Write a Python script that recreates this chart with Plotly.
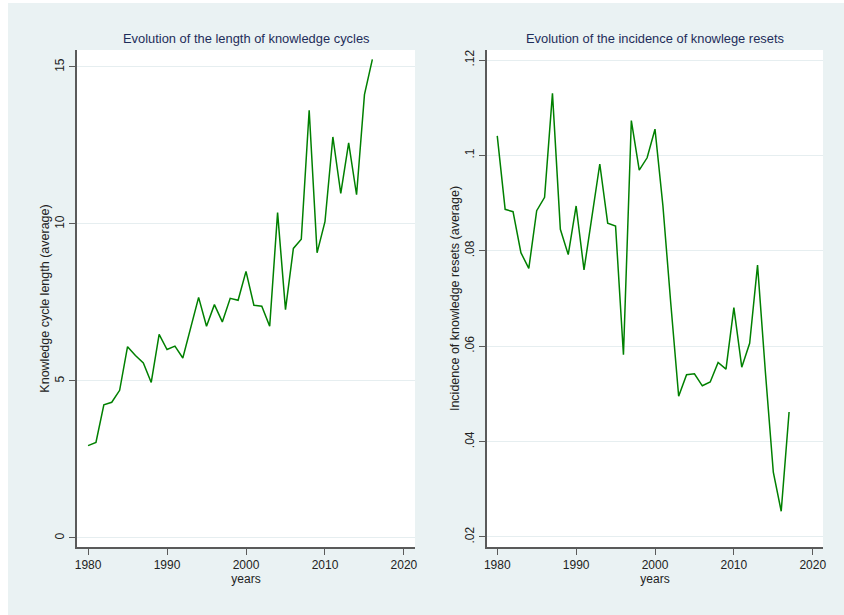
import plotly.graph_objects as go

# Average length of knowledge cycles by year
cycle_years = list(range(1980, 2017))
cycle_length = [2.94, 3.04, 4.24, 4.32, 4.70, 6.09, 5.81, 5.57, 4.95, 6.48,
                6.00, 6.11, 5.73, 6.69, 7.66, 6.74, 7.43, 6.88, 7.63, 7.57,
                8.49, 7.41, 7.38, 6.74, 10.36, 7.27, 9.22, 9.51, 13.62, 9.08,
                10.07, 12.77, 10.97, 12.58, 10.93, 14.12, 15.24]

# Average incidence of knowledge resets by year
reset_years = list(range(1980, 2018))
reset_incidence = [0.1041, 0.0887, 0.0882, 0.0796, 0.0763, 0.0884, 0.0912, 0.1130,
                   0.0845, 0.0792, 0.0894, 0.0760, 0.0871, 0.0982, 0.0858, 0.0852,
                   0.0582, 0.1073, 0.0969, 0.0995, 0.1055, 0.0895, 0.0690, 0.0495,
                   0.0540, 0.0542, 0.0517, 0.0525, 0.0566, 0.0552, 0.0681, 0.0556,
                   0.0606, 0.0770, 0.0545, 0.0336, 0.0254, 0.0462]

x_ticks = [1980, 1990, 2000, 2010, 2020]
left_y_ticks = [0, 5, 10, 15]
left_y_labels = ["0", "5", "10", "15"]
right_y_ticks = [0.02, 0.04, 0.06, 0.08, 0.10, 0.12]
right_y_labels = [".02", ".04", ".06", ".08", ".1", ".12"]

BG = "#EAF2F3"
GRID = "#E6EEF0"
AXIS = "#5A5A5A"
LINE = "#008000"
TITLE_C = "#1E2D5A"
FONT = "Liberation Sans, Arial, sans-serif"

fig = go.Figure()
fig.add_trace(go.Scatter(x=cycle_years, y=cycle_length, mode="lines",
                         line=dict(color=LINE, width=1.5),
                         xaxis="x", yaxis="y", showlegend=False))
fig.add_trace(go.Scatter(x=reset_years, y=reset_incidence, mode="lines",
                         line=dict(color=LINE, width=1.5),
                         xaxis="x2", yaxis="y2", showlegend=False))

W, H = 844, 615
ml, mr, mt, mb = 77, 21, 50, 68
pw = W - ml - mr
ph = H - mt - mb

x_common = dict(tickmode="array", tickvals=x_ticks, ticks="outside", ticklen=6,
                tickwidth=1.2, tickcolor=AXIS, showline=True, linecolor=AXIS,
                linewidth=1.5, showgrid=False, zeroline=False,
                tickfont=dict(size=12, color="#222222", family=FONT),
                title=dict(text="years", standoff=0,
                           font=dict(size=12, color="#222222", family=FONT)))
y_common = dict(tickmode="array", ticks="outside", ticklen=6, tickwidth=1.2,
                tickcolor=AXIS, showline=True, linecolor=AXIS, linewidth=1.5,
                showgrid=True, gridcolor=GRID, gridwidth=1, zeroline=False,
                tickangle=-90,
                tickfont=dict(size=12, color="#222222", family=FONT))

fig.update_layout(
    width=W, height=H,
    margin=dict(l=ml, r=mr, t=mt, b=mb),
    paper_bgcolor=BG, plot_bgcolor="white",
    font=dict(family=FONT, size=12, color="#222222"),
    xaxis=dict(domain=[0, (415 - ml) / pw], range=[1978.6, 2021.4],
               anchor="y", **x_common),
    yaxis=dict(domain=[0, 1], range=[-0.29, 15.54], anchor="x",
               tickvals=left_y_ticks, ticktext=left_y_labels,
               title=dict(text="Knowledge cycle length (average)", standoff=1,
                          font=dict(size=12.5, color="#222222", family=FONT)),
               **y_common),
    xaxis2=dict(domain=[(487 - ml) / pw, 1], range=[1978.7, 2021.3],
                anchor="y2", **x_common),
    yaxis2=dict(domain=[0, 1], range=[0.0179, 0.1221], anchor="x2",
                tickvals=right_y_ticks, ticktext=right_y_labels,
                title=dict(text="Incidence of knowledge resets (average)", standoff=1,
                           font=dict(size=12.5, color="#222222", family=FONT)),
                **y_common),
    annotations=[
        dict(text="Evolution of the length of knowledge cycles",
             xref="paper", yref="paper",
             x=((77 + 415) / 2 - ml) / pw, y=1.0, yshift=2,
             xanchor="center", yanchor="bottom", showarrow=False,
             font=dict(size=12.9, color=TITLE_C, family=FONT)),
        dict(text="Evolution of the incidence of knowlege resets",
             xref="paper", yref="paper",
             x=((487 + 823) / 2 - ml) / pw, y=1.0, yshift=2,
             xanchor="center", yanchor="bottom", showarrow=False,
             font=dict(size=12.9, color=TITLE_C, family=FONT)),
    ],
    shapes=[
        dict(type="rect", xref="paper", yref="paper", layer="below",
             x0=-ml / pw, x1=(8 - ml) / pw, y0=-mb / ph,
             y1=1 + mt / ph, fillcolor="white", line=dict(width=0)),
        dict(type="rect", xref="paper", yref="paper", layer="below",
             x0=-ml / pw, x1=1 + mr / pw, y0=1 + (mt - 3) / ph,
             y1=1 + mt / ph, fillcolor="white", line=dict(width=0)),
    ],
)

fig.write_html("out.html")
